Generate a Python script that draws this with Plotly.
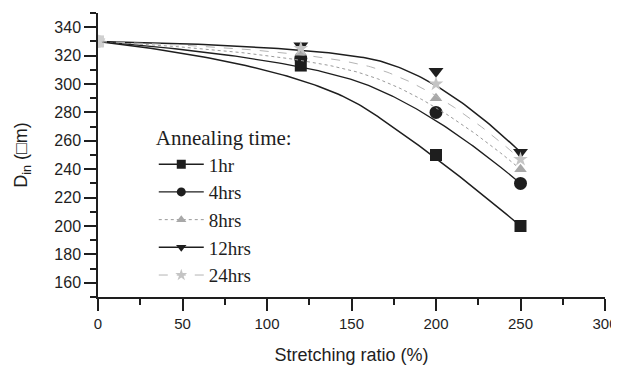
import numpy as np
import plotly.graph_objects as go

stretch = [0, 120, 200, 250]
series_names = ["1hr", "4hrs", "8hrs", "12hrs", "24hrs"]
d_1hr = [330, 313, 250, 200]
d_4hrs = [330, 318, 280, 230]
d_8hrs = [330, 322, 290, 240]
d_12hrs = [330, 327, 309, 252]
d_24hrs = [330, 325, 300, 247]
x_ticks = [0, 50, 100, 150, 200, 250, 300]
y_ticks = [160, 180, 200, 220, 240, 260, 280, 300, 320, 340]

values = [d_1hr, d_4hrs, d_8hrs, d_12hrs, d_24hrs]
styles = [
    dict(color="#1e1e1e", dash="solid", width=1.5, symbol="square", msize=12, mcolor="#1e1e1e"),
    dict(color="#1e1e1e", dash="solid", width=1.3, symbol="circle", msize=13, mcolor="#1e1e1e"),
    dict(color="#9a9a9a", dash="dot", width=1.0, symbol="triangle-up", msize=11, mcolor="#a8a8a8"),
    dict(color="#1e1e1e", dash="solid", width=1.5, symbol="triangle-down", msize=13, mcolor="#1e1e1e"),
    dict(color="#b4b4b4", dash="dash", width=1.0, symbol="star", msize=11, mcolor="#c4c4c4"),
]


def bspline2(xv, yv, n=60):
    # clamped quadratic B-spline using the data points as control points
    P = np.column_stack([np.asarray(xv, float), np.asarray(yv, float)])
    m = len(P)
    s = np.linspace(0, 1, n)[:, None]
    out = []
    for i in range(m - 2):
        a = P[0] if i == 0 else (P[i] + P[i + 1]) / 2
        c = P[-1] if i == m - 3 else (P[i + 1] + P[i + 2]) / 2
        b = P[i + 1]
        seg = (1 - s) ** 2 * a + 2 * s * (1 - s) * b + s ** 2 * c
        out.append(seg if i == 0 else seg[1:])
    pts = np.vstack(out)
    return pts[:, 0], pts[:, 1]


fig = go.Figure()
for name, vals, st in zip(series_names, values, styles):
    cx, cy = bspline2(stretch, vals)
    fig.add_trace(go.Scatter(x=cx, y=cy, mode="lines", showlegend=False,
                             line=dict(color=st["color"], dash=st["dash"], width=st["width"]),
                             hoverinfo="skip"))
    mcolors = ["#d0d0d0"] + [st["mcolor"]] * (len(stretch) - 1)
    fig.add_trace(go.Scatter(x=stretch, y=vals, mode="markers", showlegend=False, cliponaxis=True,
                             marker=dict(symbol=st["symbol"], size=st["msize"], color=mcolors,
                                         line=dict(width=0))))
    fig.add_trace(go.Scatter(x=[None], y=[None], mode="lines+markers", name=name,
                             line=dict(color=st["color"], dash=st["dash"], width=st["width"]),
                             marker=dict(symbol=st["symbol"], size=9, color=st["mcolor"], line=dict(width=0))))

axis_common = dict(
    showline=True, linecolor="#1e1e1e", linewidth=1.5, mirror=False, showgrid=False, zeroline=False,
    ticks="outside", ticklen=12, tickwidth=1.5, tickcolor="#1e1e1e", automargin=False,
)
fig.update_xaxes(range=[0, 300], tickvals=x_ticks, ticktext=[str(v) for v in x_ticks],
                 tickfont=dict(family="Liberation Sans, Arial", size=15, color="#1e1e1e"),
                 minor=dict(ticks="outside", ticklen=6, dtick=25, tick0=0, tickwidth=1.5, tickcolor="#1e1e1e"),
                 title=dict(text="Stretching ratio (%)", font=dict(family="Liberation Sans, Arial", size=18, color="#1e1e1e"), standoff=18),
                 **axis_common)
fig.update_yaxes(range=[150, 350], tickvals=y_ticks, ticktext=[str(v) for v in y_ticks],
                 tickfont=dict(family="Liberation Sans, Arial", size=16, color="#1e1e1e"),
                 minor=dict(ticks="outside", ticklen=6, dtick=10, tick0=150, tickwidth=1.5, tickcolor="#1e1e1e"),
                 title=dict(text="D<sub>in</sub> (□m)", font=dict(family="Liberation Sans, Arial", size=18, color="#1e1e1e"), standoff=22),
                 **axis_common)

# page body adds an 8px offset, so the figure is 8px smaller and margins shifted accordingly
fig.update_layout(
    width=611, height=367,
    margin=dict(l=90, r=14, t=5, b=78),
    paper_bgcolor="white", plot_bgcolor="white",
    legend=dict(
        x=0.11, y=0.63, xanchor="left", yanchor="top",
        title=dict(text="Annealing time:", font=dict(family="Liberation Serif, Times New Roman", size=21, color="#1e1e1e")),
        font=dict(family="Liberation Serif, Times New Roman", size=19, color="#1e1e1e"),
        bgcolor="rgba(0,0,0,0)", itemwidth=45, tracegroupgap=0,
    ),
)

fig.write_html("out.html")
